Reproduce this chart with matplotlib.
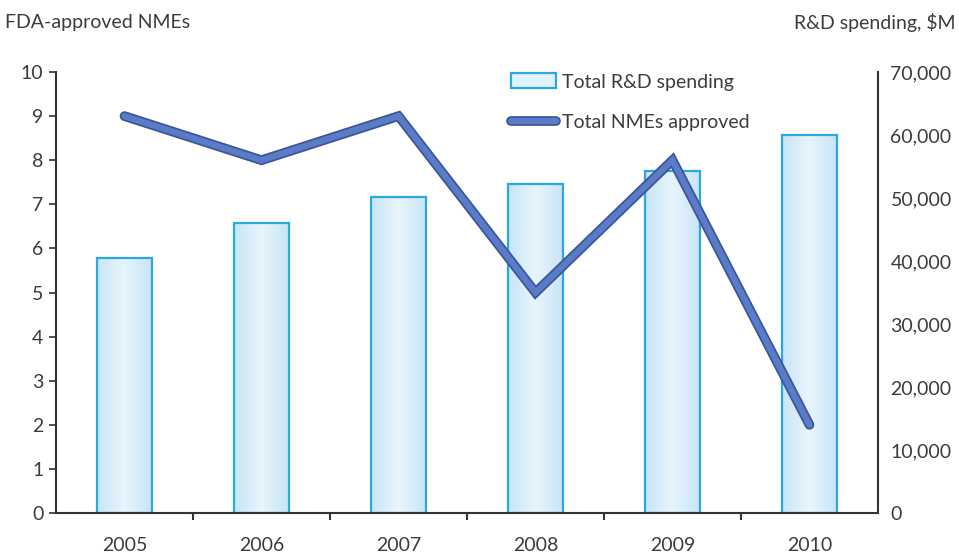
import matplotlib.pyplot as plt
import matplotlib.patheffects as pe
from matplotlib.patches import Patch
from matplotlib.lines import Line2D
from matplotlib.colors import LinearSegmentedColormap
import numpy as np

plt.rcParams['font.family'] = ['Lato', 'DejaVu Sans']

# Data
years = ['2005', '2006', '2007', '2008', '2009', '2010']
rd_spending = [40500, 46000, 50200, 52200, 54300, 60000]   # $M
nmes_approved = [9, 8, 9, 5, 8, 2]

text_col = '#3c3c3c'
spine_col = '#333333'
bar_edge = '#2aa8e0'
line_col = '#5a7cc6'
line_dark = '#3a559a'
fs = 14

fig = plt.figure(figsize=(9.59, 5.56), dpi=100)
ax = fig.add_axes([0.0584, 0.0773, 0.8571, 0.7932])
ax2 = ax.twinx()
ax.set_zorder(ax2.get_zorder() + 1)
ax.patch.set_visible(False)

x = np.arange(len(years))
width = 0.40

# Bars with a soft horizontal gradient fill
cmap = LinearSegmentedColormap.from_list('bar', ['#c8e5f6', '#e8f5fc', '#c8e5f6'])
grad = np.linspace(0, 1, 64).reshape(1, -1)
bars = ax2.bar(x, rd_spending, width=width, facecolor='none', edgecolor=bar_edge,
               linewidth=1.6, zorder=3)
for b in bars:
    x0, y0 = b.get_x(), b.get_y()
    im = ax2.imshow(grad, cmap=cmap, aspect='auto', zorder=2,
                    extent=(x0, x0 + b.get_width(), y0, y0 + b.get_height()))
    im.set_clip_path(b)

# Line for NMEs
line_fx = [pe.Stroke(linewidth=7, foreground=line_dark), pe.Normal()]
ax.plot(x, nmes_approved, color=line_col, linewidth=4.5, solid_capstyle='round',
        solid_joinstyle='miter', path_effects=line_fx, zorder=5)

# Axes limits and ticks
ax.set_xlim(-0.5, len(years) - 0.5)
ax.set_ylim(0, 10)
ax2.set_ylim(0, 70000)

ax.set_xticks(x)
ax.set_xticklabels(years)
ax.set_xticks(np.arange(0.5, len(years) - 1, 1), minor=True)
ax.tick_params(axis='x', which='major', length=0, pad=17, labelsize=fs, colors=text_col)
ax.tick_params(axis='x', which='minor', length=5, width=1.5, direction='out', color=spine_col)

ax.set_yticks(range(0, 11))
ax.tick_params(axis='y', length=5, width=1.2, color=spine_col, pad=4,
               labelsize=fs, labelcolor=text_col)

ax2.set_yticks(range(0, 70001, 10000))
ax2.set_yticklabels([f'{v:,}' for v in range(0, 70001, 10000)])
ax2.tick_params(axis='y', length=0, pad=9, labelsize=fs, labelcolor=text_col)

for a in (ax, ax2):
    a.spines['top'].set_visible(False)
    for s in ('left', 'right', 'bottom'):
        a.spines[s].set_color(spine_col)
        a.spines[s].set_linewidth(1.5)
ax.spines['right'].set_visible(False)
ax2.spines['left'].set_visible(False)
ax2.spines['bottom'].set_visible(False)

# Axis titles at the top corners
fig.text(0.005, 0.96, 'FDA-approved NMEs', fontsize=fs, color=text_col,
         ha='left', va='center')
fig.text(0.996, 0.96, 'R&D spending, $M', fontsize=fs, color=text_col,
         ha='right', va='center')

# Legend
handles = [
    Patch(facecolor='#e0f2fb', edgecolor=bar_edge, linewidth=1.6),
    Line2D([0], [0], color=line_col, linewidth=4.5, solid_capstyle='round',
           path_effects=line_fx),
]
ax.legend(handles, ['Total R&D spending', 'Total NMEs approved'],
          loc='upper left', bbox_to_anchor=(0.533, 0.868), bbox_transform=fig.transFigure,
          frameon=False, fontsize=fs, labelcolor=text_col, handlelength=2.3,
          handleheight=0.8, handletextpad=0.3, labelspacing=1.2, borderpad=0,
          borderaxespad=0)

fig.savefig('out.png', dpi=100, facecolor='white')
